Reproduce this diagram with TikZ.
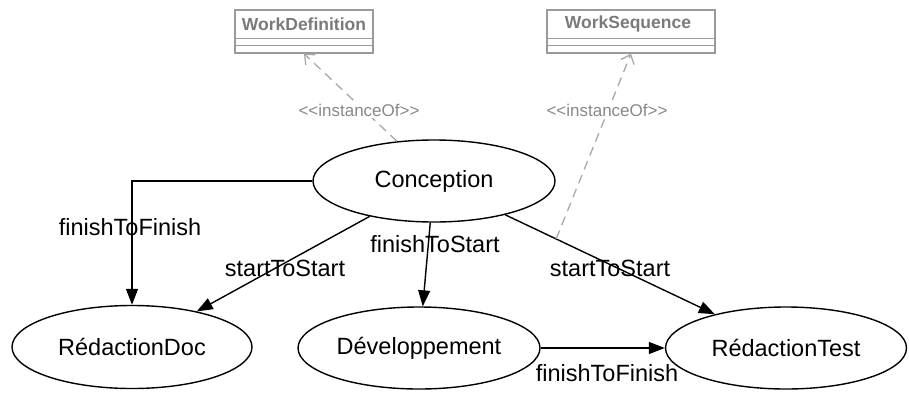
\documentclass[tikz,border=0pt]{standalone}
\usepackage{fontspec}
\setmainfont{Liberation Sans}
\usetikzlibrary{shapes.geometric,arrows.meta}
\definecolor{umlgray}{HTML}{9A9A9A}
\definecolor{umltext}{HTML}{7A7A7A}
\definecolor{dashgray}{HTML}{A8A8A8}
\definecolor{insttext}{HTML}{888888}
\newcommand{\instof}{<\kern0pt<instanceOf>\kern0pt>}
\begin{document}
\begin{tikzpicture}[x=1pt,y=-1pt,
  act/.style={draw,ellipse,line width=1.4pt,minimum width=242pt,minimum height=82pt,inner sep=0pt,font=\fontsize{23.5}{28}\selectfont},
  flow/.style={draw,line width=1.4pt,-{Triangle[length=16pt,width=12pt]}},
  lbl/.style={font=\fontsize{23.5}{28}\selectfont,inner sep=0pt},
  umlbox/.style={draw=umlgray,line width=1.3pt,minimum height=43pt,inner sep=0pt},
  umlline/.style={draw=umlgray,line width=1.3pt},
  umltitle/.style={font=\fontsize{17.5}{20}\selectfont\bfseries,text=umltext,inner sep=0pt},
  inst/.style={draw=dashgray,line width=1.3pt,dash pattern=on 9pt off 6pt,-{Straight Barb[length=8pt,width=14pt]}},
  instlbl/.style={font=\fontsize{17}{20}\selectfont,text=insttext,fill=white,inner sep=2pt}
]
\useasboundingbox (0,0) rectangle (909,399);

% UML boxes
\node[umlbox,minimum width=138pt] (WD) at (304,31.5) {};
\node[umltitle] (WDt) at (304,24) {WorkDefinition};
\draw[umlline] ([yshift=15pt]WD.south west) -- ([yshift=15pt]WD.south east);
\draw[umlline] ([yshift=8pt]WD.south west) -- ([yshift=8pt]WD.south east);

\node[umlbox,minimum width=168pt] (WS) at (631,31.5) {};
\node[umltitle] (WSt) at (628,24) {WorkSequence};
\draw[umlline] ([yshift=15pt]WS.south west) -- ([yshift=15pt]WS.south east);
\draw[umlline] ([yshift=8pt]WS.south west) -- ([yshift=8pt]WS.south east);

% activities
\node[act] (Conception) at (434,181) {Conception};
\node[act,minimum width=240pt,minimum height=83pt] (RedactionDoc) at (132,347) {RédactionDoc};
\node[act] (Developpement) at (419,348) {Développement};
\node[act,minimum width=241pt] (RedactionTest) at (786,348) {RédactionTest};

% flows
\draw[flow] (Conception.west) -| (RedactionDoc.north);
\draw[flow] (Conception) -- (RedactionDoc);
\draw[flow] (Conception) -- (Developpement);
\draw[flow] (Conception) -- (RedactionTest);
\draw[flow] (Developpement.east) -- (RedactionTest.west);

\node[lbl] (l1) at (130,227) {finishToFinish};
\node[lbl] (l2) at (285,268) {startToStart};
\node[lbl] (l3) at (435,244) {finishToStart};
\node[lbl] (l4) at (610,268) {startToStart};
\node[lbl] (l5) at (607,373) {finishToFinish};

% instanceOf
\path (Conception.center) -- (RedactionTest.center) coordinate[pos=0.347] (mid);
\draw[inst] (Conception.133) -- (WD.south);
\draw[inst] (mid) -- (WS.south);
\node[instlbl] (i1) at (359,110) {\instof};
\node[instlbl] (i2) at (607,110) {\instof};
\end{tikzpicture}
\end{document}
